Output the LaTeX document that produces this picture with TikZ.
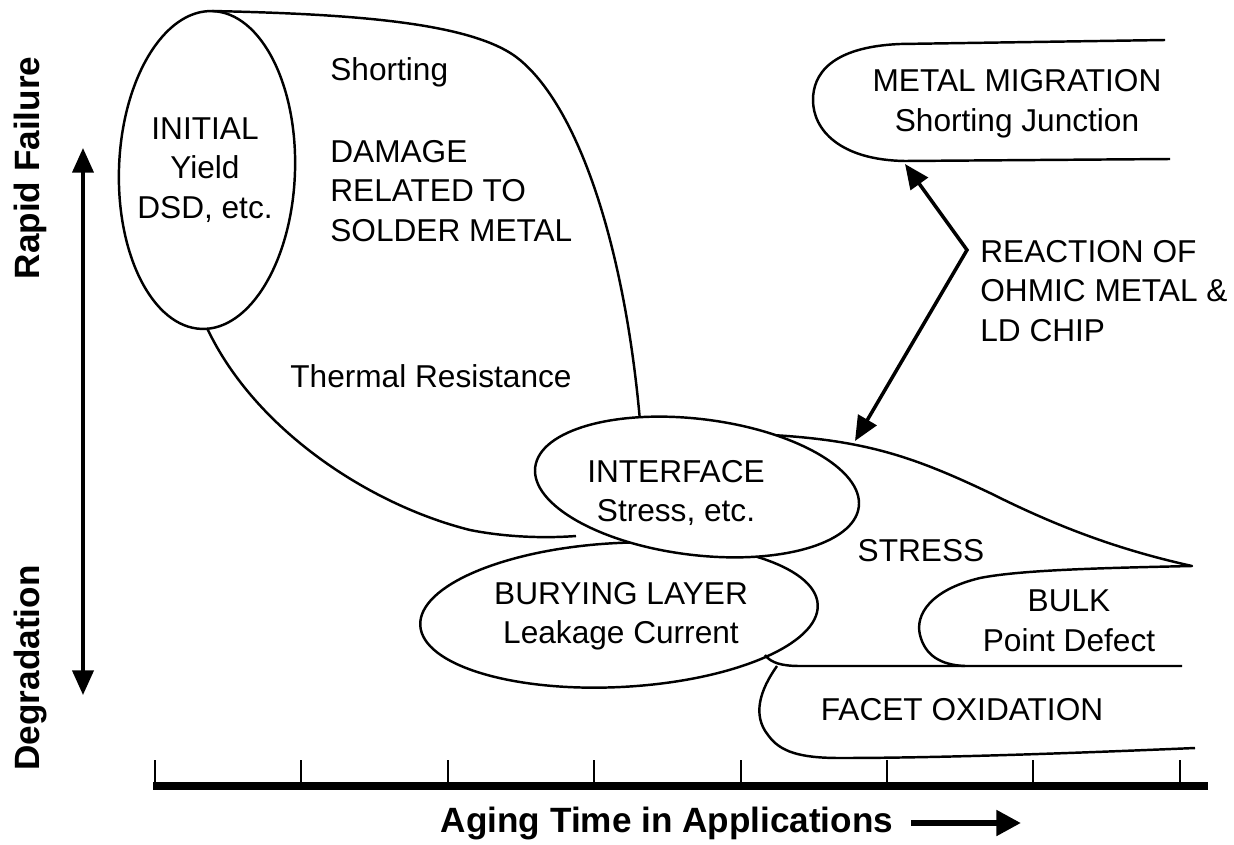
\documentclass[tikz,border=0pt]{standalone}
\usepackage{fontspec}
\setmainfont{Liberation Sans}
\usetikzlibrary{arrows.meta}

\begin{document}
\begin{tikzpicture}[x=0.02cm,y=-0.02cm,draw=black,
  >={Triangle[length=14pt,width=12pt]},
  outline/.style={line width=1.4pt,line join=round},
  lbl/.style={font=\fontsize{18}{22.5}\selectfont,align=center,inner sep=0pt},
  axlbl/.style={font=\fontsize{20}{24}\selectfont\bfseries,inner sep=0pt}]
\fill[white] (0,0) rectangle (1234,845);
\useasboundingbox (0,0) rectangle (1234,845);

% solder metal region
\draw[outline] (212,11) .. controls (350,14) and (475,22) .. (520,60)
  .. controls (580,110) and (625,250) .. (640,421);
\draw[outline] (207,328) .. controls (255,430) and (370,505) .. (470,530)
  .. controls (510,538) and (550,538) .. (576,536);
\draw[outline,rotate around={-2:(207,170)}] (207,170) ellipse [x radius=88,y radius=159];

% stress and bulk
\draw[outline] (750,434) .. controls (860,438) and (910,455) .. (990,493)
  .. controls (1060,528) and (1120,550) .. (1192,566)
  .. controls (1100,568) and (1020,570) .. (980,578)
  .. controls (930,590) and (915,615) .. (920,635)
  .. controls (925,655) and (940,665) .. (965,666);
\draw[outline] (765,655) .. controls (771,663) and (782,666) .. (800,666) -- (1182,666);

% facet oxidation
\draw[outline] (777,666) .. controls (760,690) and (752,715) .. (768,735)
  .. controls (780,752) and (800,758) .. (840,758)
  .. controls (950,758) and (1100,752) .. (1195,748);

% metal migration
\draw[outline] (1165,40) -- (900,44) .. controls (830,47) and (813,75) .. (813,100)
  .. controls (813,130) and (840,160) .. (905,161) -- (1170,159);

% interface over burying layer
\draw[outline,rotate around={3:(619,615)}] (619,615) ellipse [x radius=199,y radius=72];
\draw[outline,fill=white,rotate around={-7:(697,487)}] (697,487) ellipse [x radius=163,y radius=68];

% labels
\node[lbl] (initial) at (205,170) {INITIAL\\Yield\\DSD, etc.};
\node[lbl,anchor=west] (shorting) at (330,72) {Shorting};
\node[lbl,anchor=west,align=left] (damage) at (330,191) {DAMAGE\\RELATED TO\\SOLDER METAL};
\node[lbl,anchor=west] (thermal) at (290,376) {Thermal Resistance};
\node[lbl] (interface) at (676,493) {INTERFACE\\Stress, etc.};
\node[lbl] (burying) at (621,616) {BURYING LAYER\\Leakage Current};
\node[lbl] (stress) at (921,551) {STRESS};
\node[lbl] (bulk) at (1069,621) {BULK\\Point Defect};
\node[lbl] (facet) at (962,710) {FACET OXIDATION};
\node[lbl] (metal) at (1017,104) {METAL MIGRATION\\Shorting Junction};
\node[lbl,anchor=west,align=left] (reaction) at (980,291) {REACTION OF\\OHMIC METAL \&\\LD CHIP};

% reaction arrow
\coordinate (mmbot) at (905,164);
\coordinate (bend) at (967,250);
\coordinate (hit) at (855,441);
\draw[<->,line width=2pt] (mmbot) -- (bend) -- (hit);

% time axis
\draw[line width=4pt] (153,786) -- (1208,786);
\foreach \k in {0,...,7}
  \draw[line width=1.2pt] ({155+146.4*\k},786) -- ++(0,-26);
\node[axlbl] (aging) at (667,823) {Aging Time in Applications};
\coordinate (agingend) at (1021,823);
\draw[line width=3.4pt,-{Triangle[length=14pt,width=14pt]}] ([xshift=0.36cm]aging.east) -- (agingend);

% failure axis
\node[axlbl,rotate=90] (rapid) at (30,168) {Rapid Failure};
\node[axlbl,rotate=90] (degr) at (30,668) {Degradation};
\coordinate (up) at (83,148);
\coordinate (down) at (83,695);
\draw[<->,line width=2pt] (down) -- (up);

\end{tikzpicture}
\end{document}
